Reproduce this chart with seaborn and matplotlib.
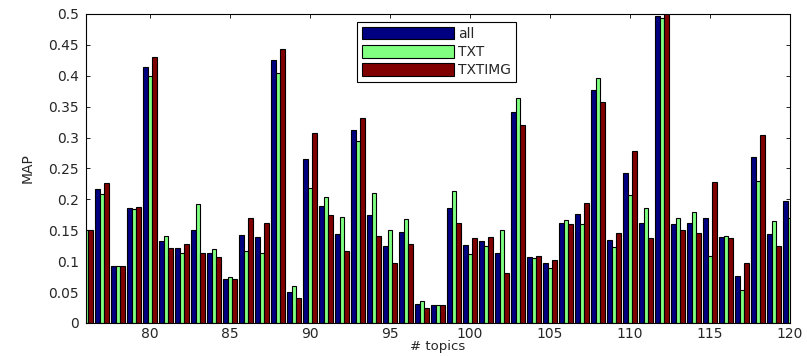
import matplotlib
matplotlib.use("Agg")
import matplotlib.pyplot as plt
import seaborn as sns
import pandas as pd

# MAP per topic
topics = list(range(76, 121))
map_all = [0.150, 0.2165, 0.092, 0.186, 0.415, 0.132, 0.1215, 0.151, 0.113, 0.072,
           0.143, 0.139, 0.4255, 0.050, 0.265, 0.189, 0.1436, 0.313, 0.1755, 0.124,
           0.148, 0.031, 0.0297, 0.1857, 0.1258, 0.1334, 0.114, 0.342, 0.107, 0.0967,
           0.1625, 0.177, 0.3774, 0.135, 0.243, 0.1614, 0.4967, 0.160, 0.1625, 0.1695,
           0.1388, 0.0761, 0.268, 0.1447, 0.1976]
map_txt = [0.150, 0.208, 0.092, 0.184, 0.400, 0.1415, 0.113, 0.192, 0.120, 0.074,
           0.1166, 0.114, 0.404, 0.060, 0.219, 0.2046, 0.172, 0.294, 0.2106, 0.1506,
           0.169, 0.036, 0.0297, 0.2133, 0.112, 0.125, 0.1506, 0.364, 0.105, 0.0896,
           0.1668, 0.160, 0.397, 0.123, 0.2068, 0.1868, 0.4935, 0.1706, 0.180, 0.108,
           0.140, 0.053, 0.2295, 0.1658, 0.170]
map_txtimg = [0.150, 0.227, 0.092, 0.187, 0.430, 0.122, 0.1285, 0.113, 0.106, 0.071,
              0.1695, 0.1625, 0.444, 0.041, 0.307, 0.1744, 0.117, 0.331, 0.140, 0.0967,
              0.1274, 0.025, 0.0297, 0.161, 0.137, 0.139, 0.0805, 0.320, 0.108, 0.1026,
              0.160, 0.1938, 0.357, 0.1463, 0.278, 0.1377, 0.510, 0.150, 0.1463, 0.2284,
              0.1377, 0.0967, 0.304, 0.124, 0.150]
series = ["all", "TXT", "TXTIMG"]
colors = ["#000080", "#80ff80", "#800000"]

xticks = [80, 85, 90, 95, 100, 105, 110, 115, 120]
yticks = [0, 0.05, 0.1, 0.15, 0.2, 0.25, 0.3, 0.35, 0.4, 0.45, 0.5]
ytick_labels = ["0", "0.05", "0.1", "0.15", "0.2", "0.25", "0.3", "0.35", "0.4", "0.45", "0.5"]

df = pd.DataFrame({
    "topic": topics * 3,
    "MAP": map_all + map_txt + map_txtimg,
    "run": [s for s in series for _ in topics],
})

sns.set_theme(style="ticks")
plt.rcParams["font.family"] = ["DejaVu Sans"]
plt.rcParams["xtick.direction"] = "in"
plt.rcParams["ytick.direction"] = "in"

fig = plt.figure(figsize=(8.07, 3.56), dpi=100)
ax = fig.add_axes([0.1066, 0.0927, 0.8724, 0.868])

sns.barplot(data=df, x="topic", y="MAP", hue="run", hue_order=series,
            palette=colors, native_scale=True, width=0.85,
            edgecolor="black", linewidth=0.8, saturation=1, ax=ax)

ax.set_xlim(76, 120)
ax.set_ylim(0, 0.5)
ax.set_xticks(xticks)
ax.set_xticklabels([str(t) for t in xticks], fontsize=10)
ax.set_yticks(yticks)
ax.set_yticklabels(ytick_labels, fontsize=10)
ax.tick_params(top=True, right=True, length=3, width=0.6, color="black", pad=5)
ax.tick_params(axis="x", pad=3)
for sp in ax.spines.values():
    sp.set_visible(True)
    sp.set_linewidth(0.8)
    sp.set_color("black")
ax.set_xlabel("# topics", fontsize=9.5, labelpad=-1)
ax.set_ylabel("MAP", fontsize=10, labelpad=10)

sns.move_legend(ax, "upper left", bbox_to_anchor=(0.385, 0.974), borderaxespad=0,
                title=None, frameon=True, fancybox=False, edgecolor="black",
                fontsize=10, handlelength=6.6, handleheight=1.0, labelspacing=0.3,
                handletextpad=0.3, borderpad=0.35, framealpha=1)
ax.get_legend().get_frame().set_linewidth(0.8)

fig.savefig("out.png", dpi=100)
